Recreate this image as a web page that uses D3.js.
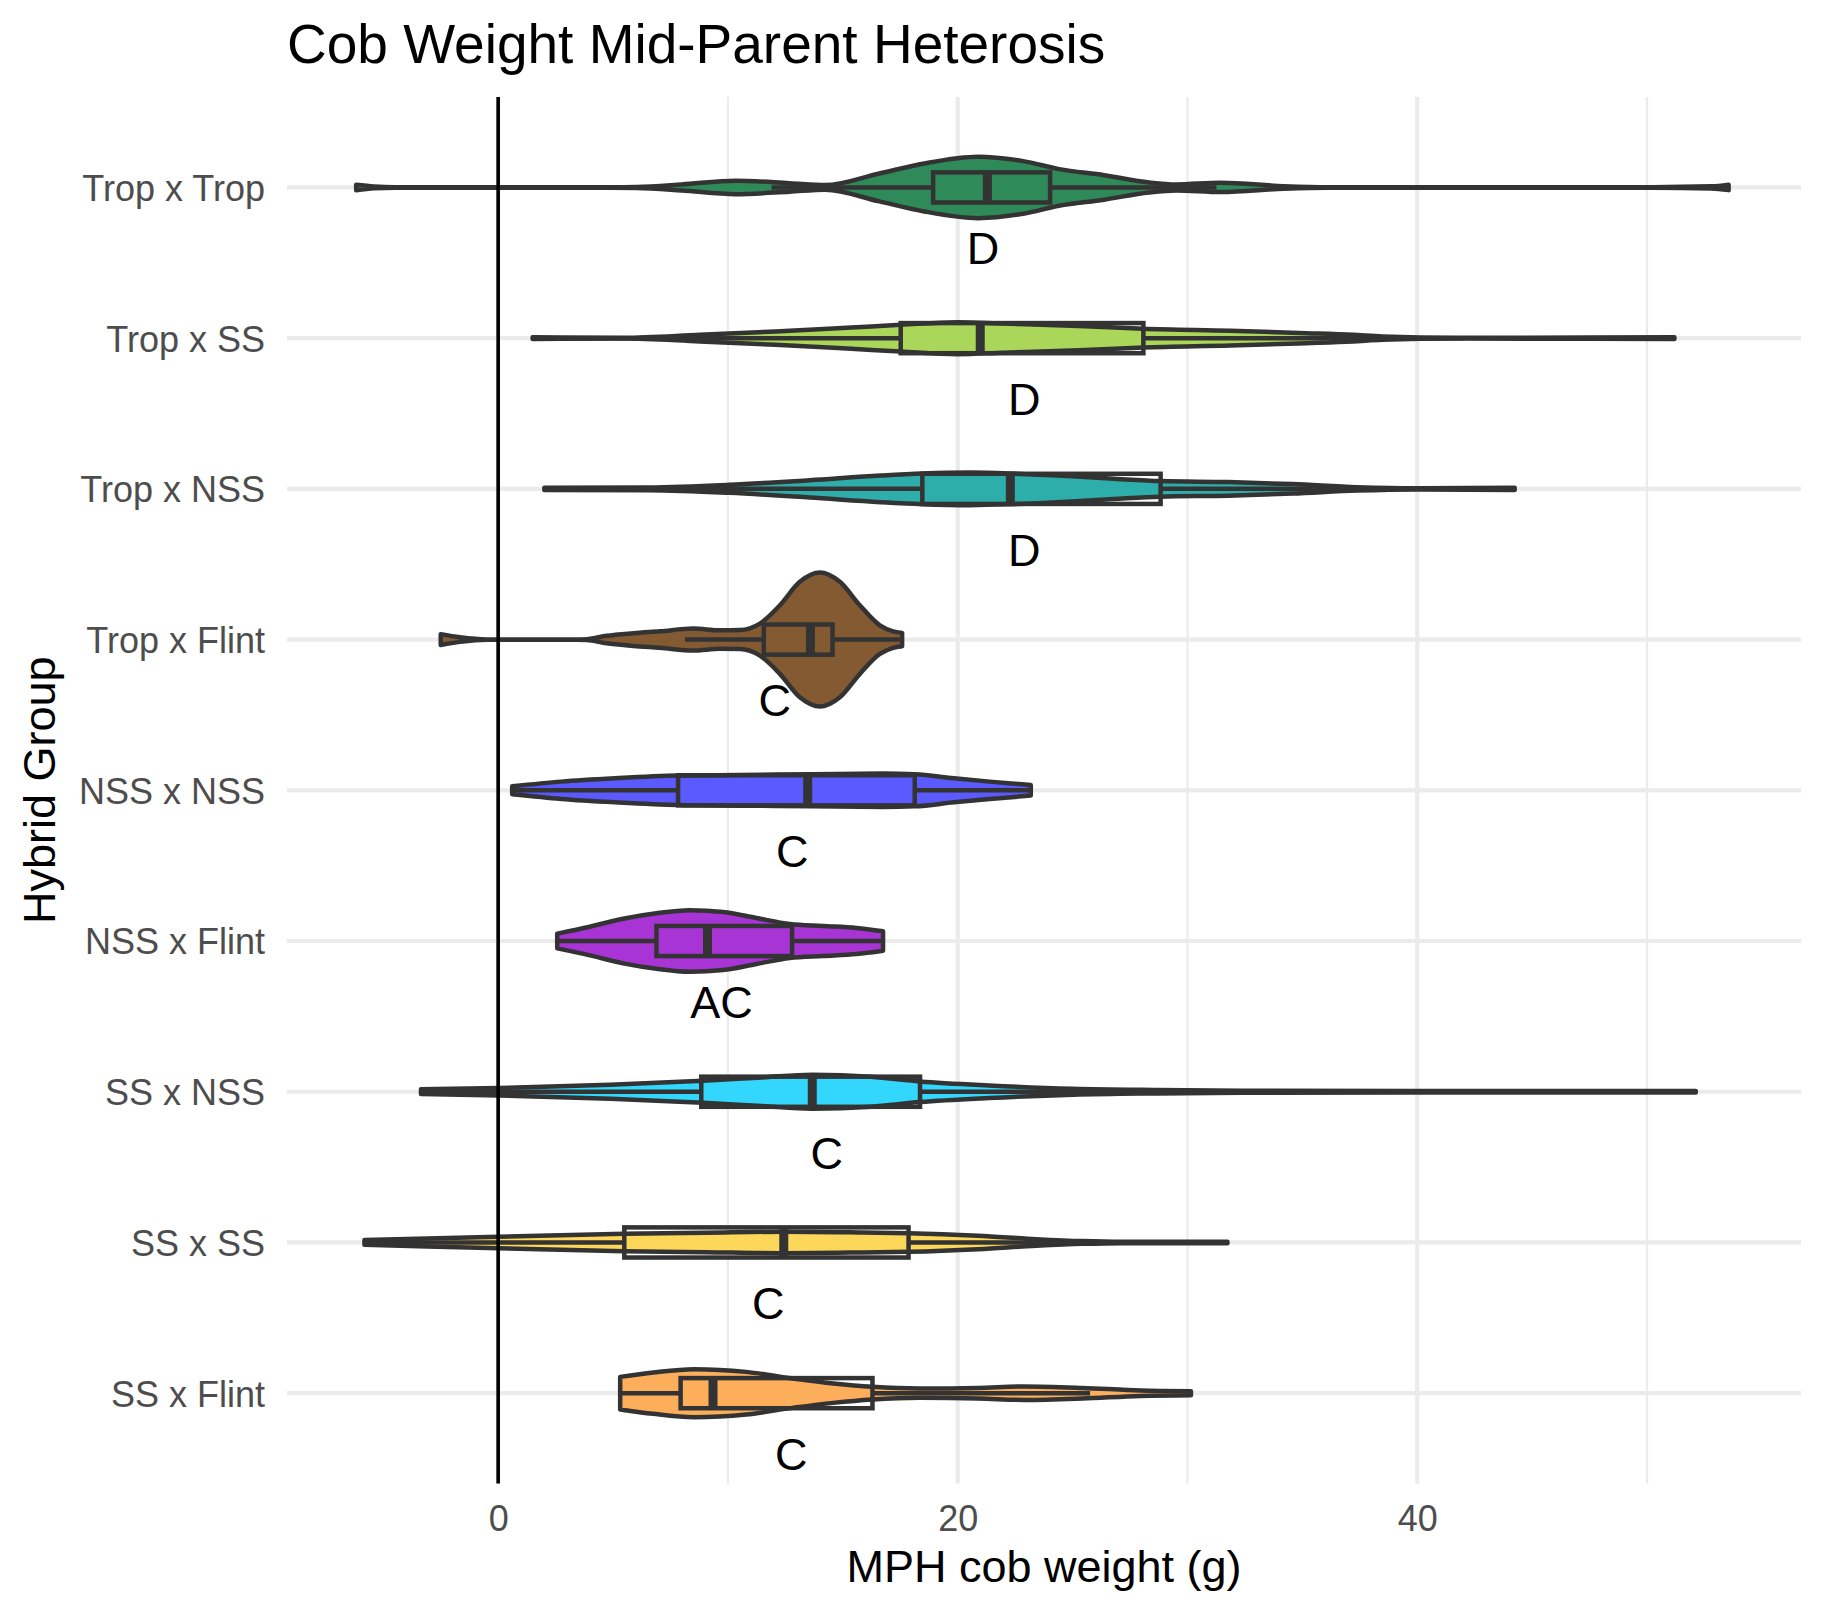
<!DOCTYPE html>
<html><head><meta charset="utf-8">
<script src="https://cdn.jsdelivr.net/npm/d3@7"></script>
<style>body{margin:0;background:#fff} svg{display:block}</style>
</head><body><svg id="c" width="1825" height="1616"></svg>
<script>
// ---------- data ----------
const groups = ["Trop x Trop","Trop x SS","Trop x NSS","Trop x Flint","NSS x NSS","NSS x Flint","SS x NSS","SS x SS","SS x Flint"];
const fills = ["#2f8a5a","#aad65a","#2eaeab","#845a33","#5a5aff","#a834d6","#33d6fd","#fdd75a","#fdae5a"];

// box-plot statistics (g)
const whiskerLo = [11.9, 1.5, 4.0, 8.13, 0.61, 2.57, -3.36, -5.82, 5.31];
const q1        = [18.93, 17.52, 18.46, 11.56, 7.83, 6.89, 8.84, 5.49, 7.94];
const medians   = [21.29, 20.98, 22.29, 13.59, 13.47, 9.11, 13.67, 12.43, 9.35];
const q3        = [24.02, 28.08, 28.83, 14.55, 18.13, 12.79, 18.36, 17.86, 16.29];
const whiskerHi = [31.26, 42.0, 44.2, 17.48, 23.18, 16.75, 30.0, 31.74, 25.76];

// significance letters and their x positions
const letters = ["D","D","D","C","C","AC","C","C","C"];
const letterX = [21.1, 22.9, 22.9, 12.04, 12.8, 9.72, 14.3, 11.75, 12.75];

// violin density profiles: [value, relative density (1 = widest violin)]
const densTropTrop = [[-6.18,0.04],[-5.4,0.014],[-4.5,0.003],[4.85,0.003],[6.03,0.008],[7.98,0.044],[10.33,0.099],[12.68,0.063],[14.24,0.034],[16.59,0.206],[18.54,0.354],[20.89,0.453],[22.85,0.388],[24.41,0.27],[26.37,0.181],[28.32,0.074],[29.5,0.044],[31.45,0.069],[34.19,0.019],[36.15,0.003],[50.23,0.004],[52.8,0.016],[53.55,0.04]];
const densTropSS = [[1.5,0.012],[5.46,0.006],[8.77,0.049],[12.07,0.098],[15.37,0.157],[17.52,0.197],[19.99,0.236],[21.97,0.215],[25.27,0.18],[28.08,0.138],[31.87,0.108],[35.18,0.074],[37.2,0.049],[38.48,0.025],[41.78,0.006],[51.19,0.012]];
const densTropNSS = [[2.01,0.015],[6.55,0.02],[10.05,0.059],[13.56,0.128],[16.64,0.196],[18.46,0.226],[20.56,0.24],[22.38,0.226],[24.76,0.19],[26.8,0.15],[28.83,0.115],[31.77,0.1],[34.57,0.07],[37.37,0.025],[40.0,0.008],[44.24,0.015]];
const densTropFlint = [[-2.5,0.08],[-1.66,0.034],[-0.5,0.003],[3.41,0.003],[3.85,0.006],[4.72,0.055],[5.88,0.093],[7.04,0.122],[8.49,0.162],[9.65,0.137],[10.52,0.14],[11.39,0.236],[12.26,0.506],[13.13,0.851],[14.0,0.988],[14.87,0.851],[15.74,0.506],[16.61,0.211],[17.19,0.122],[17.58,0.099]];
const densNSSNSS = [[0.61,0.059],[2.75,0.128],[5.08,0.177],[7.83,0.217],[10.52,0.226],[13.62,0.236],[16.73,0.246],[18.13,0.236],[19.84,0.177],[21.39,0.128],[23.18,0.078]];
const densNSSFlint = [[2.57,0.108],[3.99,0.211],[5.44,0.329],[6.89,0.409],[8.34,0.453],[9.79,0.428],[11.24,0.339],[12.69,0.251],[14.14,0.221],[15.59,0.192],[16.75,0.143]];
const densSSNSS = [[-3.36,0.035],[0.05,0.055],[4.88,0.103],[8.91,0.162],[11.47,0.211],[13.67,0.251],[16.23,0.221],[18.36,0.152],[21.36,0.093],[25.02,0.044],[28.68,0.025],[32.34,0.015],[39.67,0.01],[52.12,0.01]];
const densSSSS = [[-5.82,0.035],[0.01,0.084],[5.49,0.128],[9.02,0.143],[12.43,0.158],[15.84,0.147],[17.86,0.137],[20.89,0.099],[23.41,0.049],[25.43,0.02],[27.2,0.01],[31.74,0.012]];
const densSSFlint = [[5.31,0.24],[6.75,0.305],[8.52,0.354],[10.79,0.314],[12.81,0.217],[14.58,0.143],[16.29,0.093],[18.36,0.069],[20.89,0.078],[22.91,0.099],[25.43,0.078],[27.96,0.04],[30.15,0.03]];
const profiles = [densTropTrop, densTropSS, densTropNSS, densTropFlint, densNSSNSS, densNSSFlint, densSSNSS, densSSSS, densSSFlint];

const xMajorTicks = [0, 20, 40];
const xMinorTicks = [10, 30, 50];
const xDomain = [-9.19, 56.7];

const title = "Cob Weight Mid-Parent Heterosis";
const xTitle = "MPH cob weight (g)";
const yTitle = "Hybrid Group";

// ---------- layout ----------
const FONT = "'Liberation Sans', Arial, Helvetica, sans-serif";
const panel = {left: 287, right: 1801, top: 97, bottom: 1483.6};
const svg = d3.select("#c");

const x = d3.scaleLinear().domain(xDomain).range([panel.left, panel.right]);
const y = d3.scalePoint().domain(groups).range([panel.top, panel.bottom]).padding(0.6);
const step = y.step();
const halfMax = 0.45 * step;   // violin max half-width
const boxHalf = 0.1 * step;    // box half-height
const LW = 4.5;

const g = svg.append("g");

// grid
g.selectAll("line.minor").data(xMinorTicks).join("line")
  .attr("x1", d => x(d)).attr("x2", d => x(d))
  .attr("y1", panel.top).attr("y2", panel.bottom)
  .attr("stroke", "#EBEBEB").attr("stroke-width", 2.2);
g.selectAll("line.majorx").data(xMajorTicks).join("line")
  .attr("x1", d => x(d)).attr("x2", d => x(d))
  .attr("y1", panel.top).attr("y2", panel.bottom)
  .attr("stroke", "#EBEBEB").attr("stroke-width", 4.2);
g.selectAll("line.majory").data(groups).join("line")
  .attr("x1", panel.left).attr("x2", panel.right)
  .attr("y1", d => y(d)).attr("y2", d => y(d))
  .attr("stroke", "#EBEBEB").attr("stroke-width", 4.2);

// violins
const OUT = "#333333";
groups.forEach((grp, i) => {
  const cy = y(grp);
  const area = d3.area()
    .curve(d3.curveMonotoneX)
    .x(d => x(d[0]))
    .y0(d => cy - d[1] * halfMax)
    .y1(d => cy + d[1] * halfMax);
  g.append("path").datum(profiles[i])
    .attr("d", area)
    .attr("fill", fills[i])
    .attr("stroke", OUT).attr("stroke-width", LW)
    .attr("stroke-linejoin", "round");
});

// box plots
groups.forEach((grp, i) => {
  const cy = y(grp);
  const bg = g.append("g");
  bg.append("line").attr("x1", x(whiskerLo[i])).attr("x2", x(q1[i]))
    .attr("y1", cy).attr("y2", cy).attr("stroke", OUT).attr("stroke-width", LW);
  bg.append("line").attr("x1", x(q3[i])).attr("x2", x(whiskerHi[i]))
    .attr("y1", cy).attr("y2", cy).attr("stroke", OUT).attr("stroke-width", LW);
  bg.append("rect").attr("x", x(q1[i])).attr("width", x(q3[i]) - x(q1[i]))
    .attr("y", cy - boxHalf).attr("height", 2 * boxHalf)
    .attr("fill", "none").attr("stroke", OUT).attr("stroke-width", LW);
  bg.append("line").attr("x1", x(medians[i])).attr("x2", x(medians[i]))
    .attr("y1", cy - boxHalf).attr("y2", cy + boxHalf)
    .attr("stroke", OUT).attr("stroke-width", 2 * LW);
});

// zero line
g.append("line").attr("x1", x(0)).attr("x2", x(0))
  .attr("y1", panel.top).attr("y2", panel.bottom)
  .attr("stroke", "#000").attr("stroke-width", 3.6);

// letters
g.selectAll("text.let").data(groups).join("text")
  .attr("x", (d, i) => x(letterX[i]))
  .attr("y", d => y(d) + 0.51 * step)
  .attr("text-anchor", "middle")
  .attr("font-family", FONT).attr("font-size", 45).attr("fill", "#000")
  .text((d, i) => letters[i]);

// axes (ggplot minimal: labels only)
const yAxis = d3.axisLeft(y).tickSize(0).tickPadding(0);
const ya = svg.append("g").attr("transform", `translate(${panel.left - 22},0)`).call(yAxis);
ya.select(".domain").remove();
ya.selectAll("text").attr("font-family", FONT).attr("font-size", 36)
  .attr("fill", "#4D4D4D").attr("dy", "0.36em").attr("x", 0);

const xAxis = d3.axisBottom(x).tickValues(xMajorTicks).tickSize(0).tickPadding(0);
const xa = svg.append("g").attr("transform", `translate(0,1531)`).call(xAxis);
xa.select(".domain").remove();
xa.selectAll("text").attr("font-family", FONT).attr("font-size", 36)
  .attr("fill", "#4D4D4D").attr("dy", 0).attr("y", 0);

// titles
svg.append("text").attr("x", panel.left).attr("y", 63)
  .attr("font-family", FONT).attr("font-size", 55).attr("fill", "#000").text(title);
svg.append("text").attr("x", (panel.left + panel.right) / 2).attr("y", 1582)
  .attr("text-anchor", "middle")
  .attr("font-family", FONT).attr("font-size", 45).attr("fill", "#000").text(xTitle);
svg.append("text")
  .attr("transform", `translate(55,${(panel.top + panel.bottom) / 2}) rotate(-90)`)
  .attr("text-anchor", "middle")
  .attr("font-family", FONT).attr("font-size", 45).attr("fill", "#000").text(yTitle);
</script></body></html>
